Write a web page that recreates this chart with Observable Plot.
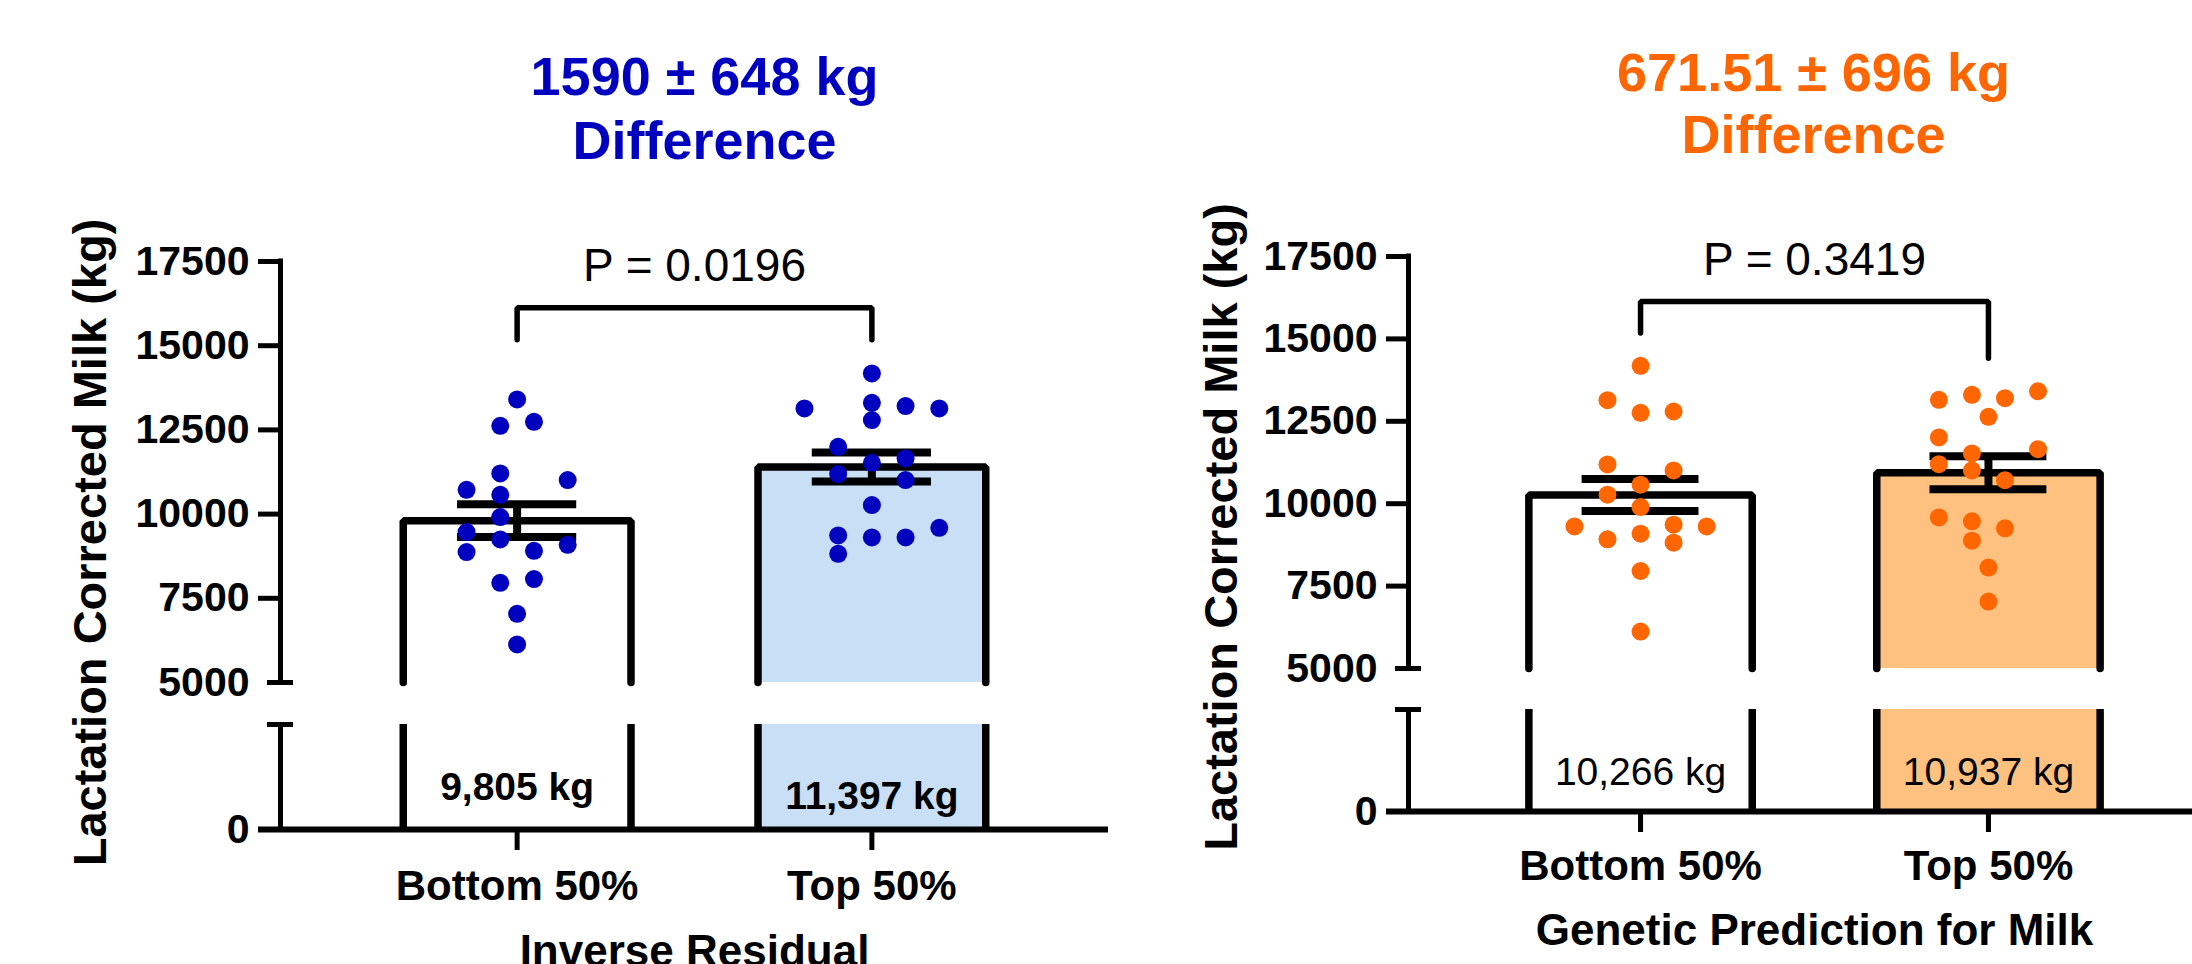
<!DOCTYPE html>
<html><head><meta charset="utf-8">
<script src="https://cdn.jsdelivr.net/npm/d3@7"></script>
<script src="https://cdn.jsdelivr.net/npm/@observablehq/plot@0.6"></script>
<style>
html,body{margin:0;padding:0;background:#fff;overflow:hidden;}
#wrap{position:relative;width:2192px;height:964px;overflow:hidden;background:#fff;}
#wrap svg{position:absolute;top:0;max-width:none;}
</style></head><body><div id="wrap"></div>
<script>
// ---------- DATA ----------
const yTitle = "Lactation Corrected Milk (kg)";
const yTicks = [0, 5000, 7500, 10000, 12500, 15000, 17500];
const categories = ["Bottom 50%", "Top 50%"];

// Left panel: Inverse Residual
const leftTitle = "1590 ± 648 kg\nDifference";
const leftP = "P = 0.0196";
const leftXTitle = "Inverse Residual";
const leftMeans = [9805, 11397];
const leftSEM = [486, 429];
const leftBottomValues = [13406, 12622, 12741, 11208, 11009, 10722, 10573, 9911, 9466, 9249, 9088, 8910, 8872, 7960, 8070, 7040, 6131];
const leftBottomColumn = [0, -0.5, 0.5, -0.5, 1.5, -1.5, -0.5, -0.5, -1.5, -0.5, 1.5, 0.5, -1.5, -0.5, 0.5, 0, 0];
const leftTopValues = [14178, 13138, 13305, 13207, 13138, 12791, 11999, 11654, 11523, 11188, 11009, 10267, 9593, 9368, 9308, 9308, 8821];
const leftTopColumn = [0, -2, 0, 1, 2, 0, -1, 1, 0, -1, 1, 0, 2, -1, 0, 1, -1];

// Right panel: Genetic Prediction for Milk
const rightTitle = "671.51 ± 696 kg\nDifference";
const rightP = "P = 0.3419";
const rightXTitle = "Genetic Prediction for Milk";
const rightMeans = [10266, 10937];
const rightSEM = [485, 499];
const rightBottomValues = [14182, 13139, 12758, 12797, 11191, 11009, 10576, 10273, 9897, 9312, 9364, 9312, 8918, 9091, 8818, 7958, 6121];
const rightBottomColumn = [0, -1, 0, 1, -1, 1, 0, -1, 0, -2, 1, 2, -1, 0, 1, 0, 0];
const rightTopValues = [13152, 13303, 13200, 13412, 12636, 12009, 11655, 11524, 11200, 11009, 10715, 9585, 9464, 9252, 8879, 8061, 7030];
const rightTopColumn = [-1.5, -0.5, 0.5, 1.5, 0, -1.5, 1.5, -0.5, -1.5, -0.5, 0.5, -1.5, -0.5, 0.5, -0.5, 0, 0];

// ---------- STYLE / LAYOUT ----------
const FONT = "'Liberation Sans', Arial, Helvetica, sans-serif";
const X_DOMAIN = [-0.667, 1.667];
const BREAK_LO = 3000, BREAK_HI = 5000, Y_MAX = 17500;
const BAR_HALF = 0.321, CAP_HALF = 0.168, SLOT = 0.095;

const panels = [
  {
    title: leftTitle, p: leftP, xTitle: leftXTitle, means: leftMeans, sem: leftSEM,
    bottomValues: leftBottomValues, bottomColumn: leftBottomColumn,
    topValues: leftTopValues, topColumn: leftTopColumn,
    color: "#0000BF", fills: ["#FFFFFF", "#C9DFF6"], labelWeight: "bold",
    L: {left: 0, width: 1112, x0: 280, x1: 1108, mt: 261, mb: 135, lowLen: 105, gap: 42,
        titleDx: 10, titleDy: -103, lineHeight: 1.167, labelDy: [-30, -21], yTitleDx: -190, yTitleDy: -3,
        xTitleDy: 136, xPad: 20, sharedLegs: true}
  },
  {
    title: rightTitle, p: rightP, xTitle: rightXTitle, means: rightMeans, sem: rightSEM,
    bottomValues: rightBottomValues, bottomColumn: rightBottomColumn,
    topValues: rightTopValues, topColumn: rightTopColumn,
    color: "#FF6600", fills: ["#FFFFFF", "#FEC17F"], labelWeight: "normal",
    L: {left: 1096, width: 1130, x0: 312, x1: 1124, mt: 256, mb: 153, lowLen: 102, gap: 41,
        titleDx: -1, titleDy: -104, lineHeight: 1.148, labelDy: [-27, -27], yTitleDx: -187, yTitleDy: -7,
        xTitleDy: 133, xPad: 18, sharedLegs: false}
  }
];

function drawPanel(p) {
  const L = p.L;
  const H = 964;
  const yBase = H - L.mb;
  // broken axis: map values onto a continuous "visual" scale (upper segment is identity)
  const upperPx = (yBase - L.lowLen - L.gap) - L.mt;
  const kgPerPx = (Y_MAX - BREAK_HI) / upperPx;
  const lowTop = BREAK_HI - L.gap * kgPerPx;
  const lowBottom = lowTop - L.lowLen * kgPerPx;
  const t = v => v >= BREAK_HI ? v : lowBottom + (v / BREAK_LO) * (lowTop - lowBottom);
  // pixel lengths converted to x units (for axis ticks and caps)
  const unitsPerPx = (X_DOMAIN[1] - X_DOMAIN[0]) / (L.x1 - L.x0);
  const TICK = 22 * unitsPerPx, BCAP = 13 * unitsPerPx;

  const X0 = X_DOMAIN[0];
  const bars = p.means.map((m, g) => ({g, mean: m, sem: p.sem[g], fill: p.fills[g]}));
  const dots = [
    ...p.bottomValues.map((v, i) => ({g: 0, v, c: p.bottomColumn[i]})),
    ...p.topValues.map((v, i) => ({g: 1, v, c: p.topColumn[i]}))
  ];
  const outline = bars.flatMap(b => [
    {g: b.g, x: b.g - BAR_HALF, y: BREAK_HI},
    {g: b.g, x: b.g - BAR_HALF, y: b.mean},
    {g: b.g, x: b.g + BAR_HALF, y: b.mean},
    {g: b.g, x: b.g + BAR_HALF, y: BREAK_HI}
  ]);
  const sides = bars.flatMap(b => [b.g - BAR_HALF, b.g + BAR_HALF]);
  const caps = bars.flatMap(b => [b.mean - b.sem, b.mean + b.sem].map(y => ({g: b.g, y})));
  const maxAll = d3.max(dots, d => d.v);
  const groupMax = [d3.max(p.bottomValues), d3.max(p.topValues)];
  const top = maxAll + 1950;
  const legs = [0, 1].map(g => (L.sharedLegs ? maxAll : groupMax[g]) + 1000);
  const bracket = [{x: 0, y: legs[0]}, {x: 0, y: top}, {x: 1, y: top}, {x: 1, y: legs[1]}];
  const fmt = d3.format(",");
  const tickFmt = d3.format("d");
  const ticksMain = yTicks.filter(v => v !== BREAK_HI);

  const svg = Plot.plot({
    width: L.width, height: H,
    marginTop: L.mt, marginBottom: L.mb, marginLeft: L.x0, marginRight: L.width - L.x1,
    x: {type: "linear", domain: X_DOMAIN, axis: null},
    y: {type: "linear", domain: [t(0), Y_MAX], axis: null},
    color: {type: "identity"},
    style: {fontFamily: FONT, background: "transparent", overflow: "visible", color: "#000", maxWidth: "none"},
    marks: [
      // bar fills (upper and lower segments)
      Plot.rect(bars, {x1: d => d.g - BAR_HALF, x2: d => d.g + BAR_HALF, y1: () => t(BREAK_HI), y2: d => t(d.mean), fill: "fill"}),
      Plot.rect(bars, {x1: d => d.g - BAR_HALF, x2: d => d.g + BAR_HALF, y1: () => t(0), y2: () => t(BREAK_LO), fill: "fill"}),
      // bar outlines
      Plot.line(outline, {x: "x", y: d => t(d.y), z: "g", stroke: "#000", strokeWidth: 7.5, strokeLinejoin: "miter"}),
      Plot.ruleX(sides, {x: d => d, y1: () => t(0), y2: () => t(BREAK_LO), stroke: "#000", strokeWidth: 7.5}),
      // error bars
      Plot.ruleX(bars, {x: "g", y1: d => t(d.mean - d.sem), y2: d => t(d.mean + d.sem), stroke: "#000", strokeWidth: 8}),
      Plot.ruleY(caps, {y: d => t(d.y), x1: d => d.g - CAP_HALF, x2: d => d.g + CAP_HALF, stroke: "#000", strokeWidth: 8}),
      // points
      Plot.dot(dots, {x: d => d.g + d.c * SLOT, y: d => t(d.v), r: 9, fill: p.color, stroke: null}),
      // y axis (broken)
      Plot.ruleX([X0], {x: d => d, y1: () => t(BREAK_HI), y2: () => t(Y_MAX), stroke: "#000", strokeWidth: 5, strokeLinecap: "square"}),
      Plot.ruleX([X0], {x: d => d, y1: () => t(0), y2: () => t(BREAK_LO), stroke: "#000", strokeWidth: 5}),
      Plot.ruleY([BREAK_HI, BREAK_LO], {y: d => t(d), x1: () => X0 - BCAP, x2: () => X0 + BCAP, stroke: "#000", strokeWidth: 5}),
      Plot.ruleY(ticksMain, {y: d => t(d), x1: () => X0 - TICK, x2: () => X0, stroke: "#000", strokeWidth: 5}),
      Plot.text(yTicks, {y: d => t(d), frameAnchor: "left", dx: -31, textAnchor: "end", lineAnchor: "middle",
        text: d => tickFmt(d), fontSize: 41, fontWeight: "bold", fill: "#000"}),
      // x axis
      Plot.ruleY([0], {y: d => t(d), x1: () => X0 - TICK, x2: () => X_DOMAIN[1], stroke: "#000", strokeWidth: 6}),
      Plot.axisX({ticks: [0, 1], tickFormat: i => categories[i], tickSize: 21, tickPadding: L.xPad,
        strokeWidth: 5, fontSize: 42, fontWeight: "bold", label: null}),
      // significance bracket
      Plot.line(bracket, {x: "x", y: d => t(d.y), stroke: "#000", strokeWidth: 5.5, strokeLinejoin: "miter"}),
      Plot.text([p.p], {x: () => 0.5, y: () => t(top), dy: -27, lineAnchor: "bottom", textAnchor: "middle", text: d => d, fontSize: 46, fill: "#000"}),
      // mean labels
      Plot.text([bars[0]], {x: "g", frameAnchor: "bottom", dy: L.labelDy[0], lineAnchor: "bottom", textAnchor: "middle",
        text: d => fmt(d.mean) + " kg", fontSize: 39, fontWeight: p.labelWeight, fill: "#000"}),
      Plot.text([bars[1]], {x: "g", frameAnchor: "bottom", dy: L.labelDy[1], lineAnchor: "bottom", textAnchor: "middle",
        text: d => fmt(d.mean) + " kg", fontSize: 39, fontWeight: p.labelWeight, fill: "#000"}),
      // titles
      Plot.text([p.title], {frameAnchor: "top", dx: L.titleDx, dy: L.titleDy, lineAnchor: "bottom", textAnchor: "middle",
        lineHeight: L.lineHeight, text: d => d, fontSize: 54, fontWeight: "bold", fill: p.color}),
      Plot.text([yTitle], {frameAnchor: "left", rotate: -90, dx: L.yTitleDx, dy: L.yTitleDy, textAnchor: "middle", lineAnchor: "middle",
        text: d => d, fontSize: 47, fontWeight: "bold", fill: "#000"}),
      Plot.text([p.xTitle], {frameAnchor: "bottom", dy: L.xTitleDy, lineAnchor: "bottom", textAnchor: "middle", text: d => d,
        fontSize: 44, fontWeight: "bold", fill: "#000"})
    ]
  });
  svg.style.left = L.left + "px";
  document.getElementById("wrap").appendChild(svg);
}

panels.forEach(drawPanel);
</script>
</body></html>
